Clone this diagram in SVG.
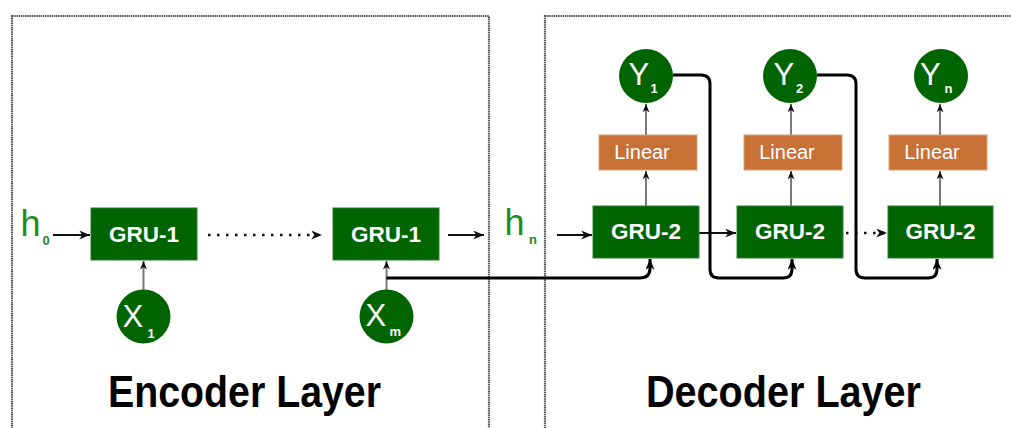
<svg xmlns="http://www.w3.org/2000/svg" width="1011" height="428" viewBox="0 0 1011 428">
  <style>
    .frame { fill: none; stroke: #555555; stroke-width: 2.2; stroke-dasharray: 1.5 0.7; }
    .gru { fill: #006400; stroke: #2f7d2f; stroke-width: 1; }
    .lin { fill: #c87137; stroke: #e0a070; stroke-width: 1; }
    .node { fill: #006400; }
    .gru-t { font-family: "Liberation Sans", Arial, sans-serif; font-weight: bold; font-size: 22.5px; fill: #ffffff; text-anchor: middle; }
    .lin-t { font-family: "Liberation Sans", Arial, sans-serif; font-size: 20px; fill: #ffffff; text-anchor: middle; }
    .big { font-family: "Liberation Sans", Arial, sans-serif; font-size: 31px; fill: #ffffff; }
    .sub { font-family: "Liberation Sans", Arial, sans-serif; font-weight: bold; font-size: 13px; fill: #ffffff; }
    .h { font-family: "Liberation Sans", Arial, sans-serif; font-size: 36px; fill: #1f8a1f; }
    .hsub { font-family: "Liberation Sans", Arial, sans-serif; font-weight: bold; font-size: 13px; fill: #1f8a1f; }
    .title { font-family: "Liberation Sans", Arial, sans-serif; font-weight: bold; font-size: 45px; fill: #000000; }
    .flow { fill: none; stroke: #111111; stroke-width: 2; }
    .dots { fill: none; stroke: #111111; stroke-width: 2.5; stroke-dasharray: 2.5 6.5; }
    .feed { fill: none; stroke: #7a7a7a; stroke-width: 2; }
    .link { fill: none; stroke: #000000; stroke-width: 3; }
  </style>
  <defs>
    <marker id="arr" viewBox="0 0 12 10" refX="12" refY="5" markerWidth="12" markerHeight="9" markerUnits="userSpaceOnUse" orient="auto">
      <path d="M0,0 L12,5 L0,10 L3.5,5 z" fill="#111111"/>
    </marker>
    <marker id="arr-sm" viewBox="0 0 12 10" refX="12" refY="5" markerWidth="9" markerHeight="7" markerUnits="userSpaceOnUse" orient="auto">
      <path d="M0,0 L12,5 L0,10 L3.5,5 z" fill="#111111"/>
    </marker>
    <marker id="arr-lk" viewBox="0 0 12 10" refX="12" refY="5" markerWidth="11" markerHeight="9" markerUnits="userSpaceOnUse" orient="auto">
      <path d="M0,0 L12,5 L0,10 L3.5,5 z" fill="#000000"/>
    </marker>
  </defs>

  <rect width="1011" height="428" fill="#ffffff"/>

  <!-- layer frames -->
  <g id="frames">
    <rect class="frame" x="12" y="16" width="477" height="440"/>
    <rect class="frame" x="545" y="16" width="490" height="440"/>
  </g>

  <!-- connectors -->
  <g id="connectors">
    <!-- recurrent state flow -->
    <line class="flow" x1="53" y1="235" x2="90" y2="235" marker-end="url(#arr)"/>
    <line class="dots" x1="208" y1="235" x2="322" y2="235" marker-end="url(#arr)"/>
    <line class="flow" x1="448" y1="235" x2="484" y2="235" marker-end="url(#arr)"/>
    <line class="flow" x1="557" y1="235" x2="592" y2="235" marker-end="url(#arr)"/>
    <line class="flow" x1="699" y1="233" x2="736" y2="233" marker-end="url(#arr)"/>
    <line class="dots" x1="846" y1="233" x2="887" y2="233" marker-end="url(#arr)"/>

    <!-- inputs into encoder cells -->
    <line class="feed" x1="143.5" y1="290" x2="143.5" y2="261" marker-end="url(#arr-sm)"/>
    <line class="feed" x1="386.5" y1="290" x2="386.5" y2="261" marker-end="url(#arr-sm)"/>

    <!-- decoder cell -> linear -> output -->
    <line class="feed" x1="646" y1="206" x2="646" y2="171" marker-end="url(#arr-sm)"/>
    <line class="feed" x1="646" y1="135" x2="646" y2="104" marker-end="url(#arr-sm)"/>
    <line class="feed" x1="791" y1="206" x2="791" y2="171" marker-end="url(#arr-sm)"/>
    <line class="feed" x1="791" y1="135" x2="791" y2="104" marker-end="url(#arr-sm)"/>
    <line class="feed" x1="940" y1="206" x2="940" y2="171" marker-end="url(#arr-sm)"/>
    <line class="feed" x1="940" y1="135" x2="940" y2="104" marker-end="url(#arr-sm)"/>

    <!-- last input fed to first decoder cell -->
    <path class="link" d="M386.5,278 H640 Q650,278 650,268 V259" marker-end="url(#arr-lk)"/>
    <!-- outputs fed back to next decoder cell -->
    <path class="link" d="M673,75 H701 Q710,75 710,84 V269 Q710,278 719,278 H783 Q792,278 792,269 V259" marker-end="url(#arr-lk)"/>
    <path class="link" d="M817,75 H847 Q856,75 856,84 V269 Q856,278 865,278 H928 Q937,278 937,269 V259" marker-end="url(#arr-lk)"/>
  </g>

  <!-- state labels -->
  <g id="h0">
    <text class="h" x="20.5" y="236">h</text>
    <text class="hsub" x="42.5" y="245">0</text>
  </g>
  <g id="hn">
    <text class="h" x="504.5" y="235">h</text>
    <text class="hsub" x="529" y="244">n</text>
  </g>

  <!-- encoder cells -->
  <g id="enc-gru-1">
    <rect class="gru" x="91" y="208" width="106" height="52"/>
    <text class="gru-t" x="144" y="242">GRU-1</text>
  </g>
  <g id="enc-gru-m">
    <rect class="gru" x="333" y="208" width="106" height="52"/>
    <text class="gru-t" x="386" y="242">GRU-1</text>
  </g>

  <!-- encoder inputs -->
  <g id="x1">
    <circle class="node" cx="143.5" cy="316.5" r="27"/>
    <text class="big" x="122.5" y="327">X</text>
    <text class="sub" x="147.5" y="338">1</text>
  </g>
  <g id="xm">
    <circle class="node" cx="386.5" cy="316.5" r="27"/>
    <text class="big" x="365.5" y="326">X</text>
    <text class="sub" x="389.5" y="335.5">m</text>
  </g>

  <!-- decoder cells -->
  <g id="dec-gru-1">
    <rect class="gru" x="593" y="206" width="106" height="52"/>
    <text class="gru-t" x="646" y="239">GRU-2</text>
  </g>
  <g id="dec-gru-2">
    <rect class="gru" x="737" y="206" width="106" height="52"/>
    <text class="gru-t" x="790" y="239">GRU-2</text>
  </g>
  <g id="dec-gru-n">
    <rect class="gru" x="888" y="206" width="105" height="52"/>
    <text class="gru-t" x="940.5" y="239">GRU-2</text>
  </g>

  <!-- linear projections -->
  <g id="linear-1">
    <rect class="lin" x="599" y="135" width="98" height="35"/>
    <text class="lin-t" x="642" y="159">Linear</text>
  </g>
  <g id="linear-2">
    <rect class="lin" x="744" y="135" width="98" height="35"/>
    <text class="lin-t" x="787" y="159">Linear</text>
  </g>
  <g id="linear-n">
    <rect class="lin" x="889" y="135" width="98" height="35"/>
    <text class="lin-t" x="932" y="159">Linear</text>
  </g>

  <!-- decoder outputs -->
  <g id="y1">
    <circle class="node" cx="646" cy="76" r="27"/>
    <text class="big" x="628.5" y="85">Y</text>
    <text class="sub" x="650.5" y="93">1</text>
  </g>
  <g id="y2">
    <circle class="node" cx="790" cy="76" r="27"/>
    <text class="big" x="773.5" y="85">Y</text>
    <text class="sub" x="796" y="93">2</text>
  </g>
  <g id="yn">
    <circle class="node" cx="941" cy="76" r="27"/>
    <text class="big" x="920" y="85">Y</text>
    <text class="sub" x="944.5" y="93">n</text>
  </g>

  <!-- layer titles -->
  <g id="titles">
    <text class="title" x="108" y="407" textLength="273" lengthAdjust="spacingAndGlyphs">Encoder Layer</text>
    <text class="title" x="646" y="407" textLength="275" lengthAdjust="spacingAndGlyphs">Decoder Layer</text>
  </g>
</svg>
